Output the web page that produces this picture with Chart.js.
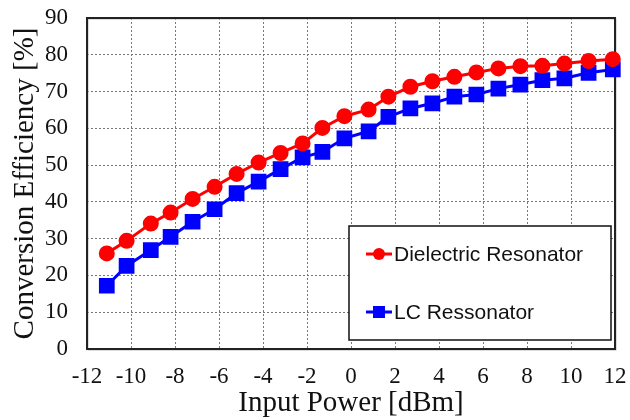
<!DOCTYPE html>
<html>
<head>
<meta charset="utf-8">
<script src="https://cdn.jsdelivr.net/npm/chart.js@4/dist/chart.umd.min.js"></script>
<style>
  html, body { margin: 0; padding: 0; background: #fff; }
  #wrap { width: 630px; height: 420px; }
</style>
</head>
<body>
<div id="wrap"><canvas id="effChart"></canvas></div>
<script>
// measured input power (dBm) for each sample
const inputPower = [-11.1, -10.2, -9.1, -8.2, -7.2, -6.2, -5.2, -4.2, -3.2, -2.2, -1.3, -0.3,
                    0.8, 1.7, 2.7, 3.7, 4.7, 5.7, 6.7, 7.7, 8.7, 9.7, 10.8, 11.9];
const dielectricEff = [26.0, 29.4, 34.1, 37.1, 40.8, 44.1, 47.6, 50.7, 53.3, 55.9, 60.1, 63.3,
                       65.1, 68.6, 71.3, 72.8, 74.0, 75.2, 76.3, 76.9, 77.0, 77.6, 78.3, 78.8];
const lcEff = [17.2, 22.6, 26.9, 30.5, 34.6, 38.0, 42.4, 45.5, 48.9, 52.1, 53.6, 57.3,
               59.2, 63.1, 65.4, 66.8, 68.6, 69.2, 70.8, 71.9, 73.1, 73.6, 75.1, 76.0];
const seriesNames = ['Dielectric Resonator', 'LC Ressonator'];
const xTitle = 'Input Power [dBm]';
const yTitle = 'Conversion Efficiency [%]';

const serif = "'Liberation Serif', 'Times New Roman', serif";

// frame around the plot area
const frame = {
    id: 'frame',
    beforeDatasetsDraw(chart) {
        const { ctx, chartArea: a } = chart;
        ctx.save();
        ctx.strokeStyle = '#bbb';
        ctx.lineWidth = 1;
        ctx.strokeRect(a.left + 1, a.top + 1, a.right - a.left, a.bottom - a.top);
        ctx.strokeStyle = '#222';
        ctx.lineWidth = 2;
        ctx.strokeRect(a.left, a.top, a.right - a.left, a.bottom - a.top);
        ctx.restore();
    }
};

// legend box inside the plot, bottom right
const boxLegend = {
    id: 'boxLegend',
    afterDatasetsDraw(chart) {
        const { ctx } = chart;
        const x0 = 349, y0 = 226, w = 262, h = 114;
        ctx.save();
        ctx.fillStyle = '#fff';
        ctx.fillRect(x0, y0, w, h);
        ctx.strokeStyle = '#111';
        ctx.lineWidth = 1.5;
        ctx.strokeRect(x0, y0, w, h);
        const rows = [254, 312];
        chart.data.datasets.forEach((ds, i) => {
            const y = rows[i];
            ctx.strokeStyle = ds.borderColor;
            ctx.lineWidth = 3;
            ctx.beginPath();
            ctx.moveTo(366, y);
            ctx.lineTo(392, y);
            ctx.stroke();
            ctx.fillStyle = ds.borderColor;
            if (ds.pointStyle === 'rect') {
                ctx.fillRect(373, y - 6, 12, 12);
            } else {
                ctx.beginPath();
                ctx.arc(379, y, 6, 0, Math.PI * 2);
                ctx.fill();
            }
            ctx.fillStyle = '#111';
            ctx.font = "21px 'Liberation Sans', Arial, sans-serif";
            ctx.textBaseline = 'middle';
            ctx.fillText(ds.label, 394, y + 1);
        });
        ctx.restore();
    }
};

new Chart(document.getElementById('effChart'), {
    type: 'line',
    data: {
        datasets: [
            {
                label: seriesNames[0],
                data: inputPower.map((x, i) => ({ x: x, y: dielectricEff[i] })),
                borderColor: '#ff0000',
                backgroundColor: '#ff0000',
                borderWidth: 3,
                pointStyle: 'circle',
                pointRadius: 6.5,
                pointHoverRadius: 6.5,
                clip: false
            },
            {
                label: seriesNames[1],
                data: inputPower.map((x, i) => ({ x: x, y: lcEff[i] })),
                borderColor: '#0000ff',
                backgroundColor: '#0000ff',
                borderWidth: 3,
                pointStyle: 'rect',
                pointRadius: 9,
                pointHoverRadius: 9,
                clip: false
            }
        ]
    },
    options: {
        responsive: true,
        maintainAspectRatio: false,
        animation: false,
        layout: { padding: { left: 0, right: 15, top: 18, bottom: 0 } },
        plugins: {
            legend: { display: false },
            tooltip: { enabled: false }
        },
        scales: {
            x: {
                type: 'linear',
                min: -12,
                max: 12,
                afterFit: s => { s.height = 71; s.paddingLeft = 0; s.paddingRight = 0; },
                ticks: {
                    stepSize: 2,
                    color: '#111',
                    padding: 14,
                    maxRotation: 0,
                    font: { family: serif, size: 23 }
                },
                grid: {
                    color: '#777',
                    lineWidth: 1,
                    drawTicks: false
                },
                border: { display: false, dash: [2, 2] },
                title: {
                    display: true,
                    text: xTitle,
                    color: '#111',
                    font: { family: serif, size: 29, lineHeight: 1 },
                    padding: { top: 0, bottom: 2 }
                }
            },
            y: {
                min: 0,
                max: 90,
                afterFit: s => { s.width = 87; s.paddingTop = 0; s.paddingBottom = 0; },
                ticks: {
                    stepSize: 10,
                    color: '#111',
                    padding: 19,
                    font: { family: serif, size: 23 }
                },
                grid: {
                    color: '#777',
                    lineWidth: 1,
                    drawTicks: false
                },
                border: { display: false, dash: [2, 2] },
                title: {
                    display: true,
                    text: yTitle,
                    color: '#111',
                    font: { family: serif, size: 29, lineHeight: 1 },
                    padding: { top: 11, bottom: 0 }
                }
            }
        }
    },
    plugins: [frame, boxLegend]
});
</script>
</body>
</html>
